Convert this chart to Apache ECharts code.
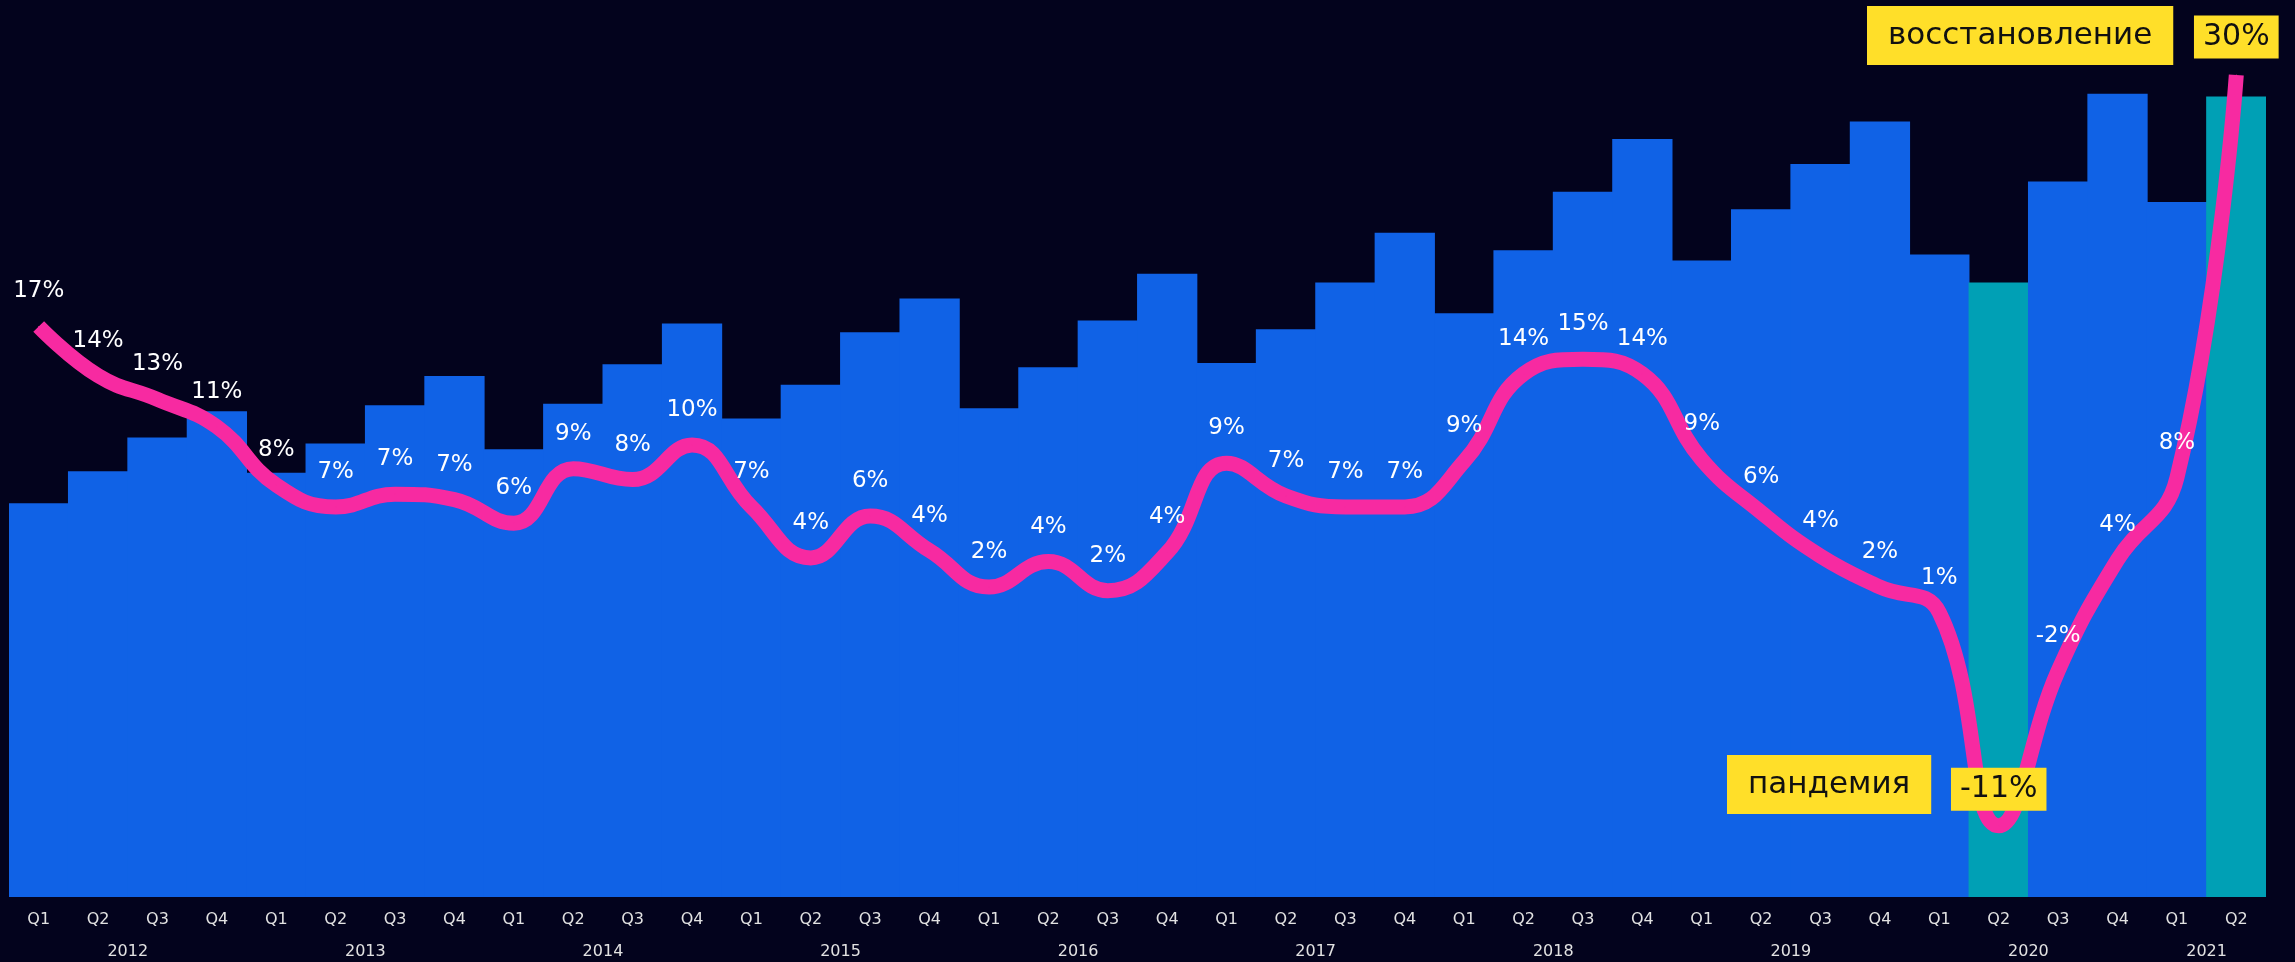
<!DOCTYPE html>
<html>
<head>
<meta charset="utf-8">
<style>
html,body{margin:0;padding:0;background:#03031D;}
#chart{width:2295px;height:962px;}
</style>
<script src="https://cdn.jsdelivr.net/npm/echarts@6/dist/echarts.min.js"></script>
</head>
<body>
<div id="chart"></div>
<script>
const years = ['2012','2013','2014','2015','2016','2017','2018','2019','2020','2021'];
const quartersPerYear = [4,4,4,4,4,4,4,4,4,2];
const quarters = ['Q1','Q2','Q3','Q4','Q1','Q2','Q3','Q4','Q1','Q2','Q3','Q4','Q1','Q2','Q3','Q4',
  'Q1','Q2','Q3','Q4','Q1','Q2','Q3','Q4','Q1','Q2','Q3','Q4','Q1','Q2','Q3','Q4','Q1','Q2','Q3','Q4','Q1','Q2'];
const barValues = [269,291,314,332, 290,310,336,356, 306,337,364,392, 327,350,386,409,
  334,362,394,426, 365,388,420,454, 399,442,482,518, 435,470,501,530, 439,420,489,549, 475,547];
const growth = [16.6,13.9,12.6,11.1, 7.9,6.7,7.4,7.1, 5.8,8.8,8.2,10.1, 6.7,3.9,6.2,4.3,
  2.3,3.7,2.1,4.2, 9.1,7.3,6.7,6.7, 9.2,14.0,14.8,14.0, 9.3,6.4,4.0,2.3, 0.9,-10.8,-2.3,3.8, 8.3,30.4];
const highlighted = [33, 37];
const boxedLabels = {33: 14.5, 37: 16};
const annotations = [
  {text: 'восстановление', x: 1867, y: 6},
  {text: 'пандемия', x: 1727, y: 755}
];

const FONT = 'DejaVu Sans';
const BLUE = '#1062E6', TEAL = '#00A0B5', PINK = '#F72AA1', YELLOW = '#FFDF29';

const yearCentres = {};
let acc = 0;
quartersPerYear.forEach((q, i) => { yearCentres[acc + q / 2] = years[i]; acc += q; });

const barData = barValues.map((v, i) => {
  const c = highlighted.includes(i) ? TEAL : BLUE;
  return {value: v, itemStyle: {color: c}};
});

const lineData = growth.map((v, i) => {
  if (boxedLabels[i] !== undefined) {
    return {value: v, label: {
      color: '#111', fontSize: 30, lineHeight: 31, backgroundColor: YELLOW,
      padding: [6, 9, 6, 9], distance: boxedLabels[i]
    }};
  }
  return v;
});

const chart = echarts.init(document.getElementById('chart'));
chart.setOption({
  backgroundColor: '#03031D',
  animation: false,
  textStyle: {fontFamily: FONT},
  grid: {left: 9, right: 29, top: 0, bottom: 65, containLabel: false},
  xAxis: [
    {type: 'category', data: quarters, boundaryGap: true,
     axisLine: {show: false}, axisTick: {show: false}, splitLine: {show: false},
     axisLabel: {color: '#E2E2E2', fontSize: 16, fontFamily: FONT, margin: 15, interval: 0}},
    {type: 'value', min: 0, max: quarters.length, interval: 1, position: 'bottom',
     axisLine: {show: false}, axisTick: {show: false}, splitLine: {show: false},
     axisLabel: {color: '#E2E2E2', fontSize: 16, fontFamily: FONT, margin: 47,
       showMinLabel: true, showMaxLabel: true,
       formatter: v => yearCentres[v] || ''}}
  ],
  yAxis: [
    {type: 'value', min: 0, max: 613, show: false},
    {type: 'value', min: -14.71, max: 34.52, show: false}
  ],
  series: [
    {type: 'bar', data: barData, barWidth: '101.5%', barCategoryGap: '0%',
     xAxisIndex: 0, yAxisIndex: 0, z: 1},
    {type: 'line', data: lineData, xAxisIndex: 0, yAxisIndex: 1, smooth: 0.45,
     symbol: 'circle', symbolSize: 1, showSymbol: true,
     itemStyle: {color: PINK},
     lineStyle: {color: PINK, width: 15, cap: 'butt', join: 'round'},
     label: {show: true, position: 'top', distance: 23, color: '#FFFFFF',
       fontSize: 23, fontFamily: FONT,
       formatter: p => Math.round(p.value) + '%'},
     z: 3}
  ],
  graphic: annotations.map(a => ({
    type: 'text', left: a.x, top: a.y, z: 10,
    style: {text: a.text, font: '31px "DejaVu Sans"', fill: '#111',
            backgroundColor: YELLOW, padding: [14, 21, 14, 21], lineHeight: 31}
  }))
});
</script>
</body>
</html>
